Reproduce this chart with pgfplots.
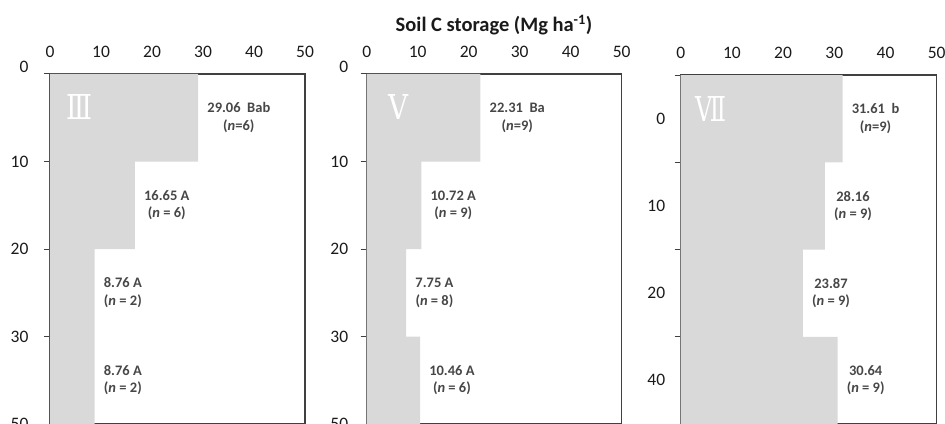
\documentclass[border=0pt]{standalone}
\usepackage{pgfplots}
\pgfplotsset{compat=1.18}
\usepackage{fontspec}
\setmainfont{Carlito}
\newfontfamily\romfont{DejaVu Serif}
\usepackage{graphicx}
\definecolor{barfill}{HTML}{D9D9D9}
\definecolor{spine}{HTML}{404040}
\definecolor{anncol}{HTML}{474747}
\definecolor{ticktext}{HTML}{1A1A1A}
\pgfplotsset{
  panel/.style={
    scale only axis, width=255pt, height=350pt,
    anchor=north west,
    xmin=0, xmax=50, ymin=0, ymax=4, y dir=reverse,
    xtick={0,10,20,30,40,50},
    xticklabel pos=upper,
    xtick style={draw=none},
    xticklabel style={yshift=7pt},
    ytick pos=left, tick align=outside, major tick length=6pt,
    y tick style={spine, line width=1pt},
    axis line style={spine, line width=1.2pt},
    ticklabel style={font=\fontsize{17.5}{19}\selectfont, text=ticktext},
    /pgf/number format/assume math mode=true,
    xbar, bar width=1, bar shift=0pt,
  },
  bars/.style={fill=barfill, draw=none},
}
\tikzset{
  annot/.style={text=anncol, anchor=west, align=center, inner sep=0pt, xshift=9pt,
    font=\bfseries\fontsize{14.5}{17.5}\selectfont},
}
\begin{document}
\begin{tikzpicture}[x=1pt,y=1pt]
\useasboundingbox (0,0) rectangle (945,423);
\clip (0,0) rectangle (945,423);
% Panel III
\begin{axis}[panel, at={(50pt,349pt)},
  ytick={1,2,3,4}, yticklabels={10,20,30,50},
  extra y ticks={0}, extra y tick labels={0},
  extra y tick style={yticklabel style={yshift=7pt}},
  yticklabel style={xshift=-12pt}]
\addplot[bars] coordinates {(29.06,0.5) (16.65,1.5) (8.76,2.5) (8.76,3.5)};
\node[annot] at (axis cs:29.06,0.5) {29.06\ \ Bab\\(\textit{n}=6)};
\node[annot] at (axis cs:16.65,1.5) {16.65 A\\(\textit{n} = 6)};
\node[annot] at (axis cs:8.76,2.5) {8.76 A\\(\textit{n} = 2)};
\node[annot] at (axis cs:8.76,3.5) {8.76 A\\(\textit{n} = 2)};
\end{axis}
% Panel V
\begin{axis}[panel, at={(366.7pt,349pt)},
  ytick={1,2,3,4}, yticklabels={10,20,30,50},
  extra y ticks={0}, extra y tick labels={0},
  extra y tick style={yticklabel style={yshift=7pt}},
  yticklabel style={xshift=-9pt}]
\addplot[bars] coordinates {(22.31,0.5) (10.72,1.5) (7.75,2.5) (10.46,3.5)};
\node[annot] at (axis cs:22.31,0.5) {22.31\ \ Ba\\(\textit{n}=9)};
\node[annot] at (axis cs:10.72,1.5) {10.72 A\\(\textit{n} = 9)};
\node[annot] at (axis cs:7.75,2.5) {7.75 A\\(\textit{n} = 8)};
\node[annot] at (axis cs:10.46,3.5) {10.46 A\\(\textit{n} = 6)};
\end{axis}
% Panel VII
\begin{axis}[panel, at={(680.7pt,348pt)}, width=256pt, height=349pt,
  ytick={0,1,2,3,4}, yticklabels={},
  extra y ticks={0.5,1.5,2.5,3.5}, extra y tick labels={0,10,20,40},
  extra y tick style={major tick length=0pt, yticklabel style={xshift=-12pt}}]
\addplot[bars] coordinates {(31.61,0.5) (28.16,1.5) (23.87,2.5) (30.64,3.5)};
\node[annot] at (axis cs:31.61,0.5) {31.61\ \ b\\(\textit{n}=9)};
\node[annot] at (axis cs:28.16,1.5) {28.16\\(\textit{n} = 9)};
\node[annot] at (axis cs:23.87,2.5) {23.87\\(\textit{n} = 9)};
\node[annot] at (axis cs:30.64,3.5) {30.64\\(\textit{n} = 9)};
\end{axis}
% roman numerals
\node[text=white, inner sep=0pt] at (80,316) {\resizebox{26pt}{25pt}{\romfont \char"2162}};
\node[text=white, inner sep=0pt] at (398,316) {\resizebox{20pt}{25pt}{\romfont \char"2164}};
\node[text=white, inner sep=0pt] at (711,314) {\resizebox{31pt}{25pt}{\romfont \char"2166}};
% title
\node[font=\bfseries\fontsize{20.5}{22}\selectfont, text=ticktext] at (494,398) {Soil C storage (Mg ha\textsuperscript{-1})};
\end{tikzpicture}
\end{document}
